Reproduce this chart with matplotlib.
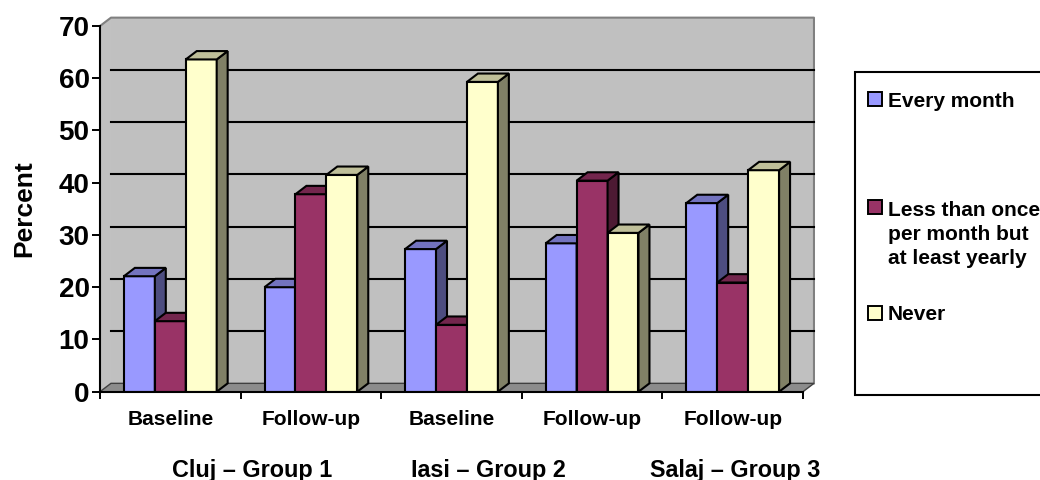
import numpy as np
import matplotlib
matplotlib.use('Agg')
import matplotlib.pyplot as plt
from matplotlib.patches import Polygon, Rectangle

plt.rcParams['font.family'] = ['Liberation Sans', 'DejaVu Sans']
plt.rcParams['font.weight'] = 'bold'

# data
categories = ['Baseline', 'Follow-up', 'Baseline', 'Follow-up', 'Follow-up']
groups = ['Cluj \u2013 Group 1', 'Iasi \u2013 Group 2', 'Salaj \u2013 Group 3']
group_x = [1.08, 2.76, 4.52]
series = ['Every month', 'Less than once\nper month but\nat least yearly', 'Never']
every_month = [22.1, 20.0, 27.3, 28.4, 36.1]
less_than_once = [13.5, 37.8, 12.8, 40.4, 20.9]
never = [63.6, 41.5, 59.3, 30.4, 42.4]
values = [every_month, less_than_once, never]

front = ['#9999FF', '#993366', '#FFFFCC']
top = ['#7373BF', '#73264D', '#BFBF99']
side = ['#4D4D80', '#4D1A33', '#808066']

W, H = 1040, 480
fig = plt.figure(figsize=(W / 100, H / 100), dpi=100)
ax = fig.add_axes([100 / W, (H - 391.7) / H, 703 / W, 365.7 / H])
ax.set_xlim(0, 5)
ax.set_ylim(0, 70)
ax.set_facecolor('none')

dx, dy = 0.078, 1.6   # depth of the 3d box, in data units
n = len(categories)
ymax = 70

# walls and floor
ax.add_patch(Polygon([(0, 0), (dx, dy), (dx, ymax + dy), (0, ymax)],
                     closed=True, fc='#C0C0C0', ec='none', zorder=0, clip_on=False))
ax.add_patch(Rectangle((dx, dy), n, ymax, fc='#C0C0C0', ec='none', zorder=0, clip_on=False))
ax.plot([0, dx, n + dx, n + dx], [ymax, ymax + dy, ymax + dy, dy],
        color='#808080', lw=1.5, zorder=0.5, clip_on=False)
ax.add_patch(Polygon([(0, 0), (n, 0), (n + dx, dy), (dx, dy)], closed=True,
                     fc='#8C8C8C', ec='#404040', lw=1.0, zorder=0.6, clip_on=False))
for v in range(10, ymax, 10):
    ax.plot([dx, n + dx], [v + dy, v + dy], color='black', lw=1.5, zorder=0.7, clip_on=False)

# bars
w = 0.22
z = 2
for i in range(n):
    for j in range(3):
        x0 = i + 0.5 + (j - 1) * w - w / 2
        v = values[j][i]
        ax.bar(x0, v, width=w, align='edge', color=front[j], edgecolor='black',
               lw=1.5, zorder=z)
        ax.add_patch(Polygon([(x0 + w, 0), (x0 + w + dx, dy), (x0 + w + dx, v + dy), (x0 + w, v)],
                             closed=True, fc=side[j], ec='black', lw=1.5, zorder=z, clip_on=False))
        ax.add_patch(Polygon([(x0, v), (x0 + dx, v + dy), (x0 + w + dx, v + dy), (x0 + w, v)],
                             closed=True, fc=top[j], ec='black', lw=1.5, zorder=z, clip_on=False))
        z += 1

# axes
for s in ['top', 'right']:
    ax.spines[s].set_visible(False)
for s in ['left', 'bottom']:
    ax.spines[s].set_color('black')
    ax.spines[s].set_linewidth(1.5)
    ax.spines[s].set_zorder(50)
ax.set_yticks(range(0, 71, 10))
ax.tick_params(axis='y', labelsize=20, length=5.5, width=1.4, pad=2)
ax.set_xticks(range(n + 1))
ax.set_xticklabels([])
ax.set_xticks(np.arange(n) + 0.5, minor=True)
ax.set_xticklabels(categories, minor=True, fontsize=15, fontweight='bold')
ax.tick_params(axis='x', which='major', length=5, width=1.4)
ax.tick_params(axis='x', which='minor', length=0, pad=13.5)
for lab in ax.get_yticklabels():
    lab.set_fontweight('bold')

ax.set_ylabel('Percent', fontsize=19, fontweight='bold')
ax.yaxis.set_label_coords(-0.108, 0.5)
ax.yaxis.label.set_va('center')

trans = ax.get_xaxis_transform()
for g, gx in zip(groups, group_x):
    ax.text(gx, -0.233, g, transform=trans, ha='center', va='baseline',
            fontsize=16.8, fontweight='bold')

# legend box drawn by hand in pixel positions
def fpt(x, y):
    return x / W, 1 - y / H

lx, ly = fpt(855, 395)
fig.add_artist(Rectangle((lx, ly), (W + 10 - 855) / W, (395 - 72) / H,
                         transform=fig.transFigure, fc='white', ec='black', lw=1.5))
rows = [[107], [215.5, 240, 264.5], [320.5]]
marker_y = [92, 200, 306]
for j in range(3):
    mx, my = fpt(868, marker_y[j] + 14)
    fig.add_artist(Rectangle((mx, my), 14 / W, 14 / H, transform=fig.transFigure,
                             fc=front[j], ec='black', lw=1.4))
    for line, by in zip(series[j].split('\n'), rows[j]):
        tx, ty = fpt(888, by)
        fig.text(tx, ty, line, fontsize=15, fontweight='bold', va='baseline', ha='left')

fig.savefig('out.png', dpi=100)
